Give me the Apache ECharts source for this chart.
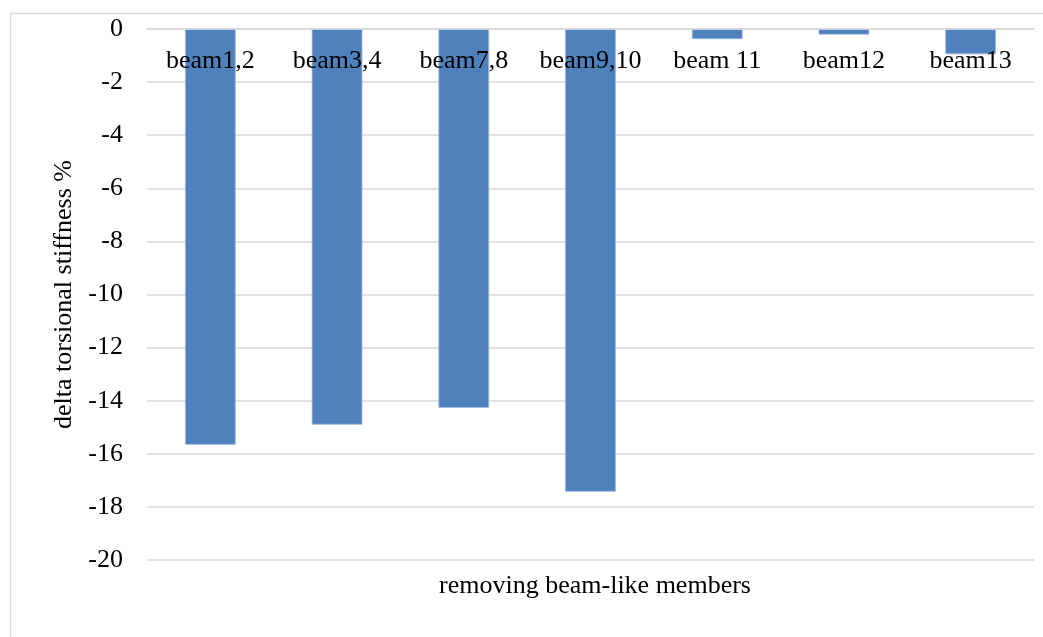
<!DOCTYPE html>
<html>
<head>
<meta charset="utf-8">
<script src="https://cdn.jsdelivr.net/npm/echarts@6/dist/echarts.min.js"></script>
<style>
html,body{margin:0;padding:0;background:#fff;}
#chart{width:1043px;height:637px;}
</style>
</head>
<body>
<div id="chart"></div>
<script>
const categories = ['beam1,2', 'beam3,4', 'beam7,8', 'beam9,10', 'beam 11', 'beam12', 'beam13'];
const deltaStiffness = [-15.66, -14.9, -14.27, -17.43, -0.38, -0.21, -0.95];
const yTicks = { min: -20, max: 0, interval: 2 };
const yAxisTitle = 'delta torsional stiffness %';
const xAxisTitle = 'removing beam-like members';

const font = '"Liberation Serif", "Times New Roman", serif';
const chart = echarts.init(document.getElementById('chart'));
chart.setOption({
  animation: false,
  backgroundColor: '#fff',
  graphic: [{
    type: 'rect',
    shape: { x: 10.5, y: 13.5, width: 1100, height: 700 },
    style: { fill: 'none', stroke: '#d9d9d9', lineWidth: 1.5 },
    silent: true
  }],
  title: {
    text: xAxisTitle,
    left: 590,
    top: 568,
    textAlign: 'center',
    textStyle: { fontFamily: font, fontSize: 26, fontWeight: 'normal', color: '#000' }
  },
  grid: { left: 147, right: 9, top: 29, bottom: 77, containLabel: false },
  xAxis: {
    type: 'category',
    data: categories,
    position: 'top',
    axisLine: { lineStyle: { color: '#d9d9d9', width: 1.5 } },
    axisTick: { show: false },
    axisLabel: { margin: -45, fontFamily: font, fontSize: 26, color: '#000', interval: 0 },
    z: 10
  },
  yAxis: {
    type: 'value',
    min: yTicks.min,
    max: yTicks.max,
    interval: yTicks.interval,
    name: yAxisTitle,
    nameLocation: 'middle',
    nameGap: 69,
    nameRotate: 90,
    nameTextStyle: { fontFamily: font, fontSize: 26, color: '#000' },
    axisLine: { show: false },
    axisTick: { show: false },
    axisLabel: { margin: 24, fontFamily: font, fontSize: 26, color: '#000' },
    splitLine: { lineStyle: { color: '#d9d9d9', width: 1.5 } }
  },
  series: [{
    type: 'bar',
    data: deltaStiffness,
    barWidth: '40%',
    itemStyle: { color: '#4f81bd', borderColor: '#9ab6dc', borderWidth: 0.8 }
  }]
});
</script>
</body>
</html>
